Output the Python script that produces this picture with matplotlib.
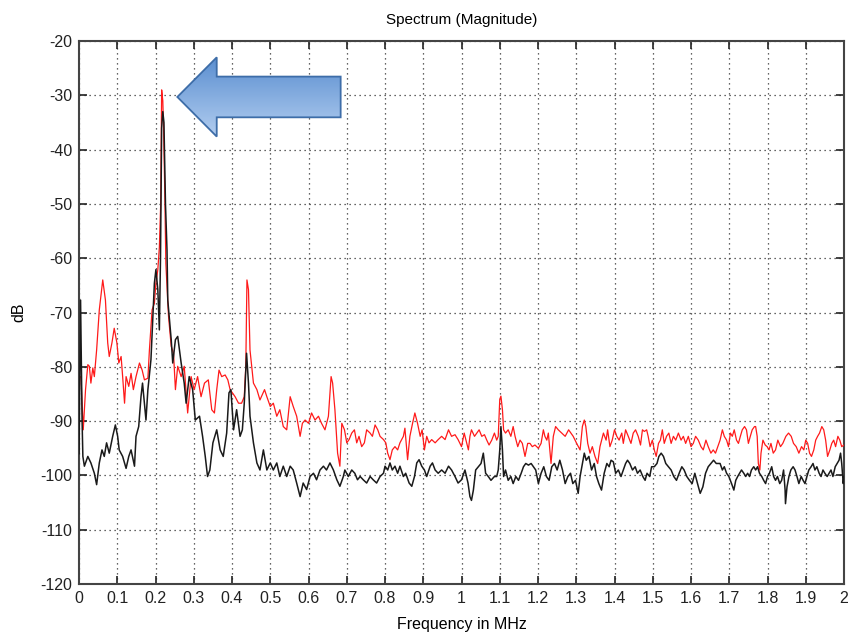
import matplotlib
matplotlib.use("Agg")
import matplotlib.pyplot as plt
import numpy as np
from matplotlib.patches import FancyArrow

plt.rcParams["font.family"] = ["Liberation Sans Narrow", "Liberation Sans", "DejaVu Sans"]
plt.rcParams["axes.unicode_minus"] = False

# spectrum readings (frequency in MHz, magnitude in dB)
RED_F = [
    0.000, 0.005, 0.011, 0.017, 0.023, 0.027, 0.031, 0.036, 0.040, 0.046,
    0.053, 0.062, 0.069, 0.075, 0.079, 0.086, 0.092, 0.099, 0.104, 0.110,
    0.114, 0.119, 0.123, 0.130, 0.136, 0.142, 0.149, 0.158, 0.165, 0.171,
    0.180, 0.184, 0.191, 0.197, 0.201, 0.206, 0.210, 0.2135, 0.216, 0.219,
    0.221, 0.224, 0.227, 0.234, 0.241, 0.247, 0.252, 0.258, 0.267, 0.275,
    0.284, 0.293, 0.301, 0.310, 0.319, 0.328, 0.338, 0.347, 0.354, 0.360,
    0.366, 0.373, 0.382, 0.389, 0.395, 0.401, 0.408, 0.417, 0.425, 0.432,
    0.436, 0.439, 0.443, 0.447, 0.456, 0.465, 0.473, 0.485, 0.491, 0.500,
    0.508, 0.517, 0.525, 0.534, 0.543, 0.552, 0.560, 0.569, 0.578, 0.584,
    0.591, 0.600, 0.608, 0.617, 0.626, 0.634, 0.643, 0.652, 0.659, 0.663,
    0.669, 0.676, 0.682, 0.687, 0.694, 0.700, 0.706, 0.713, 0.720, 0.726,
    0.732, 0.739, 0.746, 0.752, 0.761, 0.767, 0.774, 0.781, 0.787, 0.796,
    0.802, 0.807, 0.813, 0.819, 0.826, 0.833, 0.839, 0.848, 0.852, 0.859,
    0.865, 0.872, 0.878, 0.885, 0.892, 0.897, 0.903, 0.909, 0.915, 0.922,
    0.931, 0.939, 0.948, 0.957, 0.966, 0.974, 0.983, 0.991, 1.000, 1.007,
    1.018, 1.022, 1.026, 1.034, 1.040, 1.046, 1.053, 1.060, 1.066, 1.072,
    1.079, 1.086, 1.092, 1.096, 1.100, 1.103, 1.107, 1.110, 1.115, 1.122,
    1.129, 1.135, 1.140, 1.147, 1.153, 1.159, 1.166, 1.173, 1.179, 1.185,
    1.192, 1.201, 1.208, 1.214, 1.218, 1.223, 1.227, 1.234, 1.240, 1.246,
    1.253, 1.262, 1.271, 1.280, 1.286, 1.292, 1.301, 1.310, 1.316, 1.321,
    1.325, 1.330, 1.336, 1.342, 1.349, 1.356, 1.362, 1.371, 1.378, 1.382,
    1.388, 1.394, 1.400, 1.406, 1.412, 1.419, 1.423, 1.429, 1.436, 1.443,
    1.449, 1.455, 1.462, 1.468, 1.473, 1.478, 1.484, 1.488, 1.493, 1.499,
    1.504, 1.509, 1.515, 1.520, 1.525, 1.530, 1.536, 1.542, 1.548, 1.554,
    1.560, 1.567, 1.574, 1.580, 1.586, 1.593, 1.600, 1.606, 1.612, 1.619,
    1.626, 1.632, 1.639, 1.645, 1.652, 1.658, 1.664, 1.670, 1.676, 1.682,
    1.687, 1.693, 1.698, 1.703, 1.708, 1.713, 1.719, 1.724, 1.729, 1.734,
    1.740, 1.745, 1.750, 1.755, 1.760, 1.766, 1.769, 1.773, 1.776, 1.780,
    1.783, 1.788, 1.794, 1.799, 1.804, 1.809, 1.815, 1.821, 1.827, 1.834,
    1.840, 1.848, 1.855, 1.862, 1.868, 1.875, 1.882, 1.889, 1.895, 1.900,
    1.905, 1.910, 1.915, 1.921, 1.926, 1.931, 1.936, 1.942, 1.947, 1.952,
    1.957, 1.963, 1.968, 1.973, 1.978, 1.984, 1.989, 1.994, 2.000,
]
RED_DB = [
    -82.0, -81.8, -91.6, -84.2, -79.6, -79.9, -83.0, -80.2, -81.8, -76.9,
    -69.5, -64.0, -67.7, -75.6, -78.1, -75.6, -72.9, -75.6, -79.3, -78.1,
    -81.8, -86.7, -81.8, -83.6, -81.2, -84.2, -81.8, -79.3, -80.6, -82.4,
    -82.1, -76.9, -69.5, -68.3, -64.6, -62.1, -58.0, -50.0, -29.0, -31.0,
    -36.0, -47.0, -61.0, -70.7, -76.2, -77.5, -84.2, -79.9, -81.8, -79.9,
    -88.5, -81.8, -84.2, -81.8, -85.5, -83.0, -82.4, -87.9, -88.5, -84.2,
    -80.6, -81.8, -81.5, -82.4, -84.2, -84.8, -85.5, -86.7, -86.7, -85.5,
    -79.9, -64.0, -65.8, -76.9, -83.0, -84.2, -86.1, -84.2, -85.5, -87.3,
    -86.7, -89.1, -87.9, -91.0, -91.6, -85.5, -87.3, -89.1, -92.8, -90.4,
    -89.8, -90.4, -88.5, -89.8, -89.1, -90.4, -91.6, -89.1, -81.8, -83.0,
    -87.9, -95.9, -98.3, -90.4, -91.6, -94.0, -93.4, -92.2, -91.6, -94.0,
    -92.8, -94.7, -94.0, -91.6, -92.2, -92.8, -90.7, -91.6, -92.8, -93.4,
    -94.0, -95.9, -97.1, -95.3, -94.7, -95.3, -94.0, -92.8, -91.3, -97.1,
    -92.8, -90.4, -88.5, -90.4, -92.8, -91.6, -95.3, -92.8, -94.0, -93.4,
    -94.0, -93.4, -92.8, -93.4, -91.6, -92.8, -92.5, -93.4, -94.7, -92.2,
    -95.3, -92.8, -91.6, -92.8, -92.2, -91.6, -92.8, -92.5, -93.5, -94.4,
    -93.5, -92.2, -93.5, -92.8, -86.0, -85.4, -87.9, -91.6, -92.2, -91.6,
    -92.8, -91.0, -92.8, -94.7, -93.5, -94.1, -96.5, -94.1, -94.1, -94.7,
    -94.4, -95.0, -94.1, -91.6, -92.8, -93.5, -92.2, -97.8, -92.8, -91.0,
    -91.6, -92.2, -92.8, -91.6, -92.2, -92.8, -94.1, -95.3, -91.0, -89.8,
    -91.0, -94.1, -95.9, -94.7, -96.5, -97.8, -94.7, -92.2, -93.5, -91.6,
    -94.7, -93.5, -91.6, -92.8, -93.5, -92.2, -94.1, -91.6, -92.8, -94.1,
    -92.2, -91.6, -92.8, -94.4, -91.6, -91.9, -91.6, -92.8, -94.7, -93.5,
    -95.3, -96.5, -94.1, -93.5, -91.6, -94.1, -92.8, -92.2, -94.1, -92.8,
    -93.5, -92.2, -93.5, -92.8, -94.1, -92.8, -94.7, -94.1, -92.8, -93.5,
    -94.7, -95.3, -93.5, -94.7, -95.9, -95.3, -95.9, -94.7, -93.5, -91.6,
    -92.8, -93.5, -94.7, -92.2, -92.8, -91.6, -93.5, -94.1, -92.8, -91.6,
    -91.0, -91.6, -94.1, -92.8, -91.6, -91.0, -91.0, -92.8, -97.8, -99.0,
    -95.9, -93.5, -94.4, -94.7, -95.3, -94.1, -95.9, -95.3, -93.5, -94.7,
    -94.1, -92.8, -92.2, -92.8, -94.1, -94.7, -95.9, -94.7, -95.3, -93.5,
    -94.1, -95.9, -96.5, -95.3, -93.5, -92.8, -92.2, -91.0, -91.6, -93.5,
    -96.5, -95.3, -94.1, -93.5, -94.7, -92.8, -93.5, -94.7, -94.4,
]

BLACK_F = [
    0.000, 0.004, 0.008, 0.010, 0.014, 0.023, 0.031, 0.040, 0.046, 0.053,
    0.060, 0.066, 0.072, 0.079, 0.088, 0.095, 0.101, 0.105, 0.114, 0.123,
    0.130, 0.136, 0.145, 0.149, 0.156, 0.162, 0.166, 0.175, 0.180, 0.188,
    0.197, 0.201, 0.206, 0.210, 0.213, 0.216, 0.219, 0.222, 0.226, 0.230,
    0.232, 0.241, 0.245, 0.252, 0.258, 0.267, 0.275, 0.280, 0.288, 0.297,
    0.304, 0.315, 0.323, 0.330, 0.336, 0.342, 0.350, 0.360, 0.369, 0.377,
    0.386, 0.392, 0.397, 0.404, 0.412, 0.421, 0.427, 0.432, 0.438, 0.443,
    0.447, 0.456, 0.465, 0.473, 0.482, 0.491, 0.500, 0.508, 0.517, 0.525,
    0.534, 0.543, 0.552, 0.560, 0.569, 0.578, 0.586, 0.595, 0.604, 0.613,
    0.621, 0.630, 0.639, 0.647, 0.656, 0.665, 0.674, 0.682, 0.691, 0.695,
    0.704, 0.713, 0.721, 0.728, 0.735, 0.743, 0.752, 0.761, 0.769, 0.778,
    0.787, 0.796, 0.800, 0.807, 0.813, 0.819, 0.826, 0.833, 0.839, 0.848,
    0.854, 0.863, 0.870, 0.877, 0.883, 0.889, 0.896, 0.903, 0.909, 0.918,
    0.924, 0.931, 0.939, 0.948, 0.957, 0.966, 0.974, 0.983, 0.991, 1.000,
    1.009, 1.017, 1.022, 1.026, 1.031, 1.037, 1.044, 1.051, 1.057, 1.063,
    1.070, 1.077, 1.086, 1.092, 1.096, 1.100, 1.103, 1.107, 1.110, 1.115,
    1.122, 1.129, 1.135, 1.142, 1.149, 1.156, 1.162, 1.168, 1.175, 1.182,
    1.188, 1.194, 1.201, 1.208, 1.215, 1.222, 1.229, 1.236, 1.243, 1.250,
    1.257, 1.264, 1.271, 1.278, 1.285, 1.291, 1.298, 1.305, 1.310, 1.316,
    1.321, 1.326, 1.333, 1.340, 1.347, 1.353, 1.359, 1.366, 1.373, 1.380,
    1.386, 1.391, 1.397, 1.403, 1.410, 1.417, 1.423, 1.429, 1.434, 1.440,
    1.447, 1.454, 1.460, 1.467, 1.474, 1.480, 1.485, 1.492, 1.497, 1.504,
    1.511, 1.516, 1.522, 1.528, 1.534, 1.541, 1.548, 1.555, 1.562, 1.569,
    1.576, 1.582, 1.589, 1.596, 1.603, 1.610, 1.617, 1.624, 1.631, 1.638,
    1.645, 1.652, 1.659, 1.666, 1.676, 1.682, 1.687, 1.693, 1.699, 1.706,
    1.712, 1.717, 1.722, 1.727, 1.732, 1.738, 1.743, 1.748, 1.753, 1.758,
    1.764, 1.769, 1.774, 1.779, 1.785, 1.790, 1.795, 1.800, 1.805, 1.811,
    1.816, 1.821, 1.826, 1.832, 1.837, 1.842, 1.846, 1.847, 1.851, 1.856,
    1.861, 1.867, 1.872, 1.877, 1.882, 1.888, 1.893, 1.898, 1.903, 1.908,
    1.914, 1.919, 1.924, 1.929, 1.935, 1.940, 1.945, 1.950, 1.956, 1.961,
    1.966, 1.971, 1.977, 1.982, 1.987, 1.991, 1.994, 1.998, 2.000,
]
BLACK_DB = [
    -96.0, -67.7, -90.0, -96.5, -98.3, -96.5, -97.7, -99.6, -101.7, -97.7,
    -95.3, -96.5, -94.0, -95.9, -92.8, -90.7, -92.8, -95.3, -96.5, -98.7,
    -96.5, -95.3, -98.3, -92.8, -91.0, -85.5, -83.0, -89.8, -84.2, -78.7,
    -64.6, -62.1, -65.8, -73.2, -60.0, -36.0, -33.0, -35.0, -50.0, -58.5,
    -67.7, -75.0, -79.3, -75.0, -74.4, -79.3, -83.0, -86.7, -81.8, -84.2,
    -89.8, -89.1, -92.8, -96.5, -100.2, -99.0, -94.0, -91.6, -95.3, -96.5,
    -92.2, -84.8, -84.2, -91.6, -87.9, -92.8, -91.6, -86.7, -77.5, -83.0,
    -89.1, -94.0, -97.7, -99.0, -95.3, -99.0, -97.7, -99.0, -97.7, -100.2,
    -98.3, -100.2, -98.3, -99.0, -101.4, -103.9, -101.4, -102.6, -100.2, -99.6,
    -100.8, -99.0, -98.3, -99.0, -97.7, -99.0, -100.8, -102.0, -100.2, -99.0,
    -100.2, -99.0, -99.6, -100.8, -100.2, -100.8, -101.4, -100.2, -100.8, -101.4,
    -100.2, -99.6, -98.3, -99.0, -97.7, -99.0, -98.3, -99.6, -98.3, -100.2,
    -99.6, -101.4, -102.0, -100.2, -97.7, -97.1, -98.3, -99.0, -100.2, -98.3,
    -97.7, -99.0, -99.6, -99.0, -99.6, -98.3, -99.0, -100.2, -101.4, -100.8,
    -99.0, -101.4, -103.9, -104.6, -102.7, -99.0, -98.4, -97.8, -95.9, -99.6,
    -100.2, -100.9, -100.2, -100.2, -99.0, -95.3, -91.0, -95.3, -100.2, -99.0,
    -100.9, -100.2, -101.5, -100.2, -100.9, -99.6, -98.4, -97.8, -98.1, -97.8,
    -98.4, -99.0, -101.5, -99.6, -98.4, -100.2, -100.9, -98.4, -97.8, -99.0,
    -97.2, -99.0, -101.5, -100.2, -99.6, -101.5, -100.9, -103.3, -100.2, -97.8,
    -95.9, -97.2, -96.5, -99.0, -97.8, -100.2, -101.5, -102.7, -99.6, -97.8,
    -98.4, -97.2, -97.5, -99.6, -99.0, -100.2, -99.0, -97.8, -97.2, -97.8,
    -99.0, -98.4, -99.6, -99.0, -100.2, -100.9, -99.6, -100.2, -98.4, -98.4,
    -97.8, -96.5, -95.9, -96.5, -97.8, -98.4, -99.0, -100.2, -100.9, -99.6,
    -98.4, -99.0, -100.2, -100.9, -101.5, -99.6, -101.5, -103.3, -102.1, -99.6,
    -98.4, -97.8, -97.2, -97.8, -97.8, -99.0, -98.4, -99.6, -100.2, -101.5,
    -102.7, -100.9, -100.2, -99.6, -99.0, -99.6, -100.2, -99.6, -100.2, -99.0,
    -98.4, -99.0, -98.4, -99.6, -100.2, -100.9, -101.5, -100.2, -99.6, -98.4,
    -100.2, -100.9, -100.2, -101.5, -100.9, -99.0, -102.7, -105.2, -102.1, -100.2,
    -99.0, -98.4, -99.0, -100.2, -101.5, -100.2, -100.9, -101.5, -100.2, -99.0,
    -98.4, -97.8, -99.0, -98.4, -99.6, -100.2, -99.0, -99.6, -100.2, -99.6,
    -99.0, -100.2, -98.4, -97.8, -97.2, -95.9, -97.8, -101.5, -100.2,
]

X_TICKS = [0, 0.1, 0.2, 0.3, 0.4, 0.5, 0.6, 0.7, 0.8, 0.9, 1,
           1.1, 1.2, 1.3, 1.4, 1.5, 1.6, 1.7, 1.8, 1.9, 2]
Y_TICKS = [-120, -110, -100, -90, -80, -70, -60, -50, -40, -30, -20]

# blue call-out arrow pointing at the main peak (data coords)
ARROW_TAIL = (0.684, -30.3)
ARROW_TIP_F = 0.257

fig = plt.figure(figsize=(8.6, 6.38), dpi=100)
ax = fig.add_axes([0.0919, 0.0846, 0.8895, 0.8511])

ax.plot(RED_F, RED_DB, color="#ff1a1a", linewidth=0.9, zorder=3)
ax.plot(BLACK_F, BLACK_DB, color="#1a1a1a", linewidth=1.1, zorder=4)

arrow = FancyArrow(
    ARROW_TAIL[0], ARROW_TAIL[1], ARROW_TIP_F - ARROW_TAIL[0], 0,
    width=7.5, head_width=14.6, head_length=0.103,
    length_includes_head=True, facecolor="none",
    edgecolor="#3d6da8", linewidth=1.3, zorder=6,
)
ax.add_patch(arrow)
grad = np.linspace(0, 1, 64).reshape(-1, 1)
img = ax.imshow(
    grad, cmap=matplotlib.colors.LinearSegmentedColormap.from_list(
        "blu", ["#b2cdf0", "#5b8fd0"]),
    extent=(0.25, 0.69, -23.0, -37.6), aspect="auto", zorder=5,
    origin="upper",
)
img.set_clip_path(arrow)

ax.set_xlim(0, 2)
ax.set_ylim(-120, -20)
ax.set_xticks(X_TICKS)
ax.set_xticklabels([f"{t:g}" for t in X_TICKS])
ax.set_yticks(Y_TICKS)
ax.grid(True, linestyle=(0, (1, 3)), color="#333333", linewidth=0.9)
ax.tick_params(direction="in", length=6, width=1.2, top=True, right=True,
               labelsize=11.5, colors="#222222", pad=5)
for s in ax.spines.values():
    s.set_color("#444444")
    s.set_linewidth(1.5)

ax.set_title("Spectrum (Magnitude)", fontsize=11, pad=12)
ax.set_xlabel("Frequency in MHz", fontsize=11.5, labelpad=8)
ax.set_ylabel("dB", fontsize=11.5, labelpad=10)

fig.savefig("out.png", dpi=100)
